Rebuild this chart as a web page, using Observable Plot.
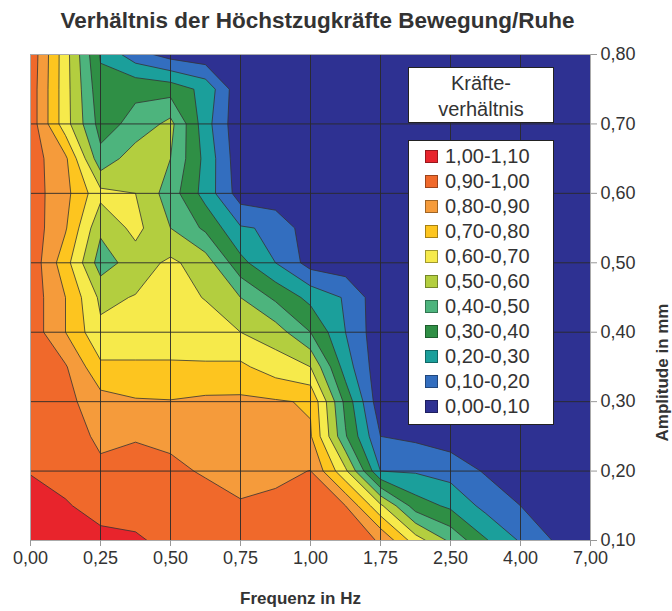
<!DOCTYPE html>
<html>
<head>
<meta charset="utf-8">
<script src="https://cdn.jsdelivr.net/npm/d3@7"></script>
<script src="https://cdn.jsdelivr.net/npm/@observablehq/plot@0.6"></script>
<style>
  body { margin: 0; background: #fff; }
  #chart { position: relative; width: 672px; height: 611px; overflow: hidden;
           font-family: "Liberation Sans", Arial, Helvetica, sans-serif; color: #333; }
  #chart svg { position: absolute; left: 0; top: 0; }
  .box { position: absolute; background: #fff; border: 1px solid #222; box-sizing: border-box; }
  .head { left: 408px; top: 67px; width: 146px; height: 56px; text-align: center;
          font-size: 20px; line-height: 26px; padding-top: 2px; }
  .keys { left: 408px; top: 140px; width: 146px; height: 285px; }
  .row { position: absolute; left: 0; height: 25px; font-size: 20px; line-height: 25px; }
  .sw { position: absolute; left: 16px; top: 6px; width: 13px; height: 13px;
        box-sizing: border-box; border: 1px solid rgba(0,0,0,0.35); }
  .lab { position: absolute; left: 36px; top: 0; white-space: nowrap; }
</style>
</head>
<body>
<div id="chart"></div>
<script>
// Frequency categories (evenly spaced along the x axis) and amplitude ticks
const freqLabels = ["0,00", "0,25", "0,50", "0,75", "1,00", "1,75", "2,50", "4,00", "7,00"];
const ampTicks = [0.1, 0.2, 0.3, 0.4, 0.5, 0.6, 0.7, 0.8];

// Force ratio (motion / rest) sampled every half category step (17 columns),
// one array per amplitude from 0.80 mm down to 0.10 mm in 0.05 mm steps.
const amp080 = [0.97, 0.64, 0.29, 0.14, 0.06, 0.03, 0.02, 0.02, 0.02, 0.02, 0.02, 0.02, 0.02, 0.02, 0.02, 0.02, 0.02];
const amp075 = [0.96, 0.64, 0.33, 0.38, 0.36, 0.27, 0.02, 0.02, 0.02, 0.02, 0.02, 0.02, 0.02, 0.02, 0.02, 0.02, 0.02];
const amp070 = [0.96, 0.64, 0.36, 0.43, 0.53, 0.24, 0.02, 0.02, 0.02, 0.02, 0.02, 0.02, 0.02, 0.02, 0.02, 0.02, 0.02];
const amp065 = [0.95, 0.82, 0.43, 0.56, 0.50, 0.27, 0.03, 0.02, 0.02, 0.02, 0.02, 0.02, 0.02, 0.02, 0.02, 0.02, 0.02];
const amp060 = [0.95, 0.83, 0.63, 0.60, 0.45, 0.26, 0.05, 0.02, 0.02, 0.02, 0.02, 0.02, 0.02, 0.02, 0.02, 0.02, 0.02];
const amp055 = [0.96, 0.81, 0.52, 0.63, 0.50, 0.38, 0.21, 0.185, 0.03, 0.02, 0.02, 0.02, 0.02, 0.02, 0.02, 0.02, 0.02];
const amp050 = [0.97, 0.74, 0.45, 0.55, 0.62, 0.55, 0.33, 0.20, 0.06, 0.04, 0.02, 0.02, 0.02, 0.02, 0.02, 0.02, 0.02];
const amp045 = [0.96, 0.80, 0.58, 0.605, 0.64, 0.595, 0.50, 0.38, 0.27, 0.19, 0.03, 0.02, 0.02, 0.02, 0.02, 0.02, 0.02];
const amp040 = [0.96, 0.80, 0.62, 0.66, 0.66, 0.65, 0.60, 0.55, 0.40, 0.20, 0.03, 0.02, 0.02, 0.02, 0.02, 0.02, 0.02];
const amp035 = [0.96, 0.91, 0.72, 0.71, 0.71, 0.71, 0.72, 0.65, 0.60, 0.25, 0.03, 0.02, 0.02, 0.02, 0.02, 0.02, 0.02];
const amp030 = [0.96, 0.93, 0.84, 0.81, 0.805, 0.82, 0.82, 0.81, 0.79, 0.37, 0.03, 0.02, 0.02, 0.02, 0.02, 0.02, 0.02];
const amp025 = [0.97, 0.95, 0.88, 0.897, 0.89, 0.88, 0.86, 0.84, 0.81, 0.41, 0.10, 0.08, 0.05, 0.04, 0.03, 0.02, 0.02];
const amp020 = [0.995, 0.96, 0.92, 0.915, 0.91, 0.895, 0.86, 0.88, 0.902, 0.62, 0.20, 0.19, 0.16, 0.09, 0.05, 0.03, 0.02];
const amp015 = [1.04, 1.01, 0.96, 0.97, 0.96, 0.92, 0.91, 0.92, 0.93, 0.90, 0.62, 0.35, 0.28, 0.17, 0.10, 0.04, 0.03];
const amp010 = [1.07, 1.05, 1.03, 1.01, 0.98, 0.96, 0.95, 0.95, 0.94, 0.93, 0.895, 0.65, 0.48, 0.31, 0.19, 0.09, 0.05];

// Band limits and their fills, lowest band first
const thresholds = [0, 0.1, 0.2, 0.3, 0.4, 0.5, 0.6, 0.7, 0.8, 0.9, 1.0];
const bandColors = ["#2e3192", "#336ebf", "#1b9f9b", "#2f8f45", "#4db47d", "#b3ce3f",
                    "#f6ea4b", "#fdc51f", "#f59b3b", "#f0692b", "#e8242c"];
const bandLabels = ["0,00-0,10", "0,10-0,20", "0,20-0,30", "0,30-0,40", "0,40-0,50", "0,50-0,60",
                    "0,60-0,70", "0,70-0,80", "0,80-0,90", "0,90-1,00", "1,00-1,10"];

const titleText = "Verhältnis der Höchstzugkräfte Bewegung/Ruhe";
const xTitle = "Frequenz in Hz";
const yTitle = "Amplitude in mm";
const legendTitle = ["Kräfte-", "verhältnis"];

// Row-major grid, first row at the lowest amplitude
const rowsTopDown = [amp080, amp075, amp070, amp065, amp060, amp055, amp050, amp045,
                     amp040, amp035, amp030, amp025, amp020, amp015, amp010];
const grid = rowsTopDown.slice().reverse().flat();
const nx = amp080.length, ny = rowsTopDown.length;

const comma = (v) => v.toFixed(2).replace(".", ",");

const chart = Plot.plot({
  width: 672,
  height: 611,
  marginLeft: 30,
  marginRight: 82,
  marginTop: 54,
  marginBottom: 71,
  style: {fontFamily: "'Liberation Sans', Arial, Helvetica, sans-serif", fontSize: "18px", color: "#333", background: "#fff"},
  x: {domain: [0, freqLabels.length - 1]},
  y: {domain: [ampTicks[0], ampTicks[ampTicks.length - 1]]},
  color: {type: "threshold", domain: thresholds.slice(1), range: bandColors},
  marks: [
    Plot.contour(grid, {
      width: nx, height: ny,
      x1: -0.25, x2: freqLabels.length - 1 + 0.25,
      y1: ampTicks[0] - 0.025, y2: ampTicks[ampTicks.length - 1] + 0.025,
      fill: Plot.identity,
      thresholds,
      stroke: "#333",
      strokeWidth: 0.8,
      clip: true
    }),
    Plot.gridX(d3.range(1, freqLabels.length - 1), {stroke: "#2a2a2a", strokeOpacity: 0.9, strokeWidth: 1}),
    Plot.gridY(ampTicks.slice(1, -1), {stroke: "#2a2a2a", strokeOpacity: 0.9, strokeWidth: 1}),
    Plot.frame({stroke: "#aaa"}),
    Plot.axisX(d3.range(freqLabels.length), {
      tickFormat: (i) => freqLabels[i], tickSize: 6, tickPadding: 5, fontSize: 18, stroke: "#999", label: null
    }),
    Plot.axisY(ampTicks, {
      anchor: "right", tickFormat: comma, tickSize: 6, tickPadding: 4, fontSize: 18, stroke: "#999", label: null
    }),
    Plot.text([titleText], {text: (d) => d, frameAnchor: "top", lineAnchor: "middle", dx: 7, dy: -34, fontSize: 22.5, fontWeight: "bold", fill: "#333"}),
    Plot.text([xTitle], {text: (d) => d, frameAnchor: "bottom", lineAnchor: "middle", dx: -10, dy: 58, fontSize: 17, fontWeight: "bold", fill: "#333"}),
    Plot.text([yTitle], {text: (d) => d, frameAnchor: "right", lineAnchor: "middle", dx: 72, dy: 6, rotate: -90, fontSize: 17, fontWeight: "bold", fill: "#333"})
  ]
});

const root = document.getElementById("chart");
root.appendChild(chart);

// Legend: heading box and one swatch row per band, highest band on top
const head = document.createElement("div");
head.className = "box head";
head.innerHTML = legendTitle.join("<br>");
root.appendChild(head);

const keys = document.createElement("div");
keys.className = "box keys";
const order = d3.range(bandLabels.length).reverse();
order.forEach((b, k) => {
  const row = document.createElement("div");
  row.className = "row";
  row.style.top = (3 + 25 * k) + "px";
  const sw = document.createElement("div");
  sw.className = "sw";
  sw.style.background = bandColors[b];
  const lab = document.createElement("div");
  lab.className = "lab";
  lab.textContent = bandLabels[b];
  row.appendChild(sw);
  row.appendChild(lab);
  keys.appendChild(row);
});
root.appendChild(keys);
</script>
</body>
</html>
